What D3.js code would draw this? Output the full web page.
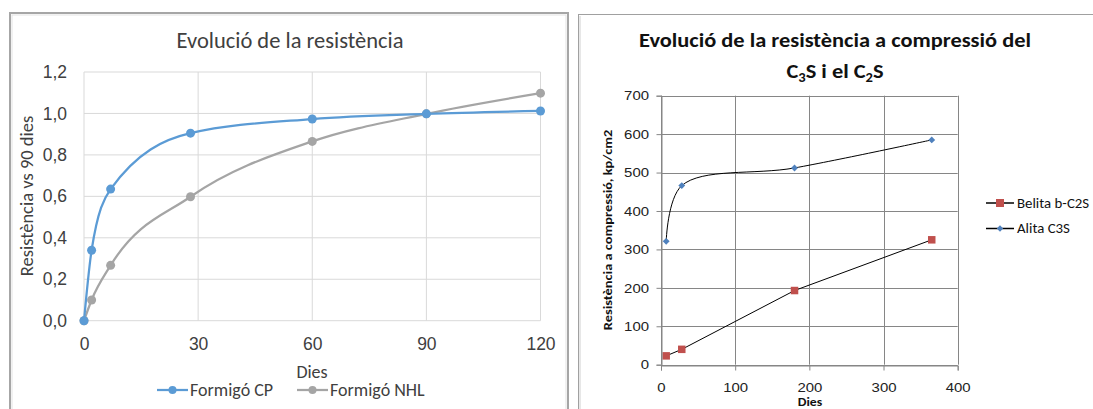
<!DOCTYPE html>
<html>
<head>
<meta charset="utf-8">
<script src="https://cdn.jsdelivr.net/npm/d3@7"></script>
<style>
  html, body { margin: 0; padding: 0; background: #fff; }
  svg { display: block; font-family: Carlito, Calibri, Lato, "Open Sans", sans-serif; }
</style>
</head>
<body>
<svg id="chart" width="1093" height="409"></svg>
<script>
// ---------- Left chart data ----------
const leftTitle = "Evolució de la resistència";
const leftDays = [0, 2, 7, 28, 60, 90, 120];
const cpValues = [0, 0.34, 0.635, 0.905, 0.973, 0.998, 1.012];
const nhlValues = [0, 0.10, 0.267, 0.598, 0.865, 0.998, 1.098];
const leftXTicks = [0, 30, 60, 90, 120];
const leftYTicks = [0, 0.2, 0.4, 0.6, 0.8, 1.0, 1.2];
const leftSeriesNames = ["Formigó CP", "Formigó NHL"];
const leftColors = ["#5B9BD5", "#A5A5A5"];

// ---------- Right chart data ----------
const rightDays = [7, 28, 180, 365];
const belitaValues = [23, 40, 193, 325];
const alitaValues = [321, 466, 512, 585];
const rightXTicks = [0, 100, 200, 300, 400];
const rightYTicks = [0, 100, 200, 300, 400, 500, 600, 700];
const rightSeriesNames = ["Belita b-C2S", "Alita C3S"];
const rightColors = ["#C0504D", "#4F81BD"];

const svg = d3.select("#chart");
const SX = 1.15; // horizontal stretch of the right chart's text

// ================= LEFT CHART =================
svg.append("rect").attr("x", 10).attr("y", 13).attr("width", 558).attr("height", 420)
  .attr("fill", "#fff").attr("stroke", "#A6A6A6").attr("stroke-width", 2);
svg.append("rect").attr("x", 12).attr("y", 15).attr("width", 554).attr("height", 420)
  .attr("fill", "none").attr("stroke", "#E3E3E3").attr("stroke-width", 1);

const lx = d3.scaleLinear().domain([0, 120]).range([84, 540.5]);
const ly = d3.scaleLinear().domain([0, 1.2]).range([320.7, 72]);

const lg = svg.append("g");
lg.selectAll("line.hg").data(leftYTicks).join("line")
  .attr("x1", lx(0)).attr("x2", lx(120))
  .attr("y1", d => ly(d)).attr("y2", d => ly(d))
  .attr("stroke", "#D9D9D9").attr("stroke-width", 1);
lg.selectAll("line.vg").data(leftXTicks).join("line")
  .attr("x1", d => lx(d)).attr("x2", d => lx(d))
  .attr("y1", ly(0)).attr("y2", ly(1.2))
  .attr("stroke", "#D9D9D9").attr("stroke-width", 1);

const lyAxis = d3.axisLeft(ly).tickValues(leftYTicks).tickSize(0).tickPadding(17)
  .tickFormat(d => d3.format(".1f")(d).replace(".", ","));
const lyG = svg.append("g").attr("transform", `translate(${lx(0)},0)`).call(lyAxis);
lyG.select(".domain").remove();
lyG.selectAll("text").attr("font-size", 17.5).attr("fill", "#404040");

const lxAxis = d3.axisBottom(lx).tickValues(leftXTicks).tickSize(0).tickPadding(17);
const lxG = svg.append("g").attr("transform", `translate(0,${ly(0)})`).call(lxAxis);
lxG.select(".domain").remove();
lxG.selectAll("text").attr("font-size", 17.5).attr("fill", "#404040");

svg.append("text").attr("x", 290).attr("y", 48).attr("text-anchor", "middle")
  .attr("font-size", 22.5).attr("fill", "#404040").text(leftTitle);
svg.append("text").attr("x", 312).attr("y", 378).attr("text-anchor", "middle")
  .attr("font-size", 18).attr("fill", "#404040").text("Dies");
svg.append("text").attr("transform", "translate(33,196) rotate(-90)").attr("text-anchor", "middle")
  .attr("font-size", 18.5).attr("fill", "#404040").text("Resistència vs 90 dies");

const leftData = [cpValues, nhlValues];
const lline = d3.line().x((d, i) => lx(leftDays[i])).y(d => ly(d)).curve(d3.curveMonotoneX);
[1, 0].forEach(s => {
  lg.append("path").datum(leftData[s]).attr("d", lline)
    .attr("fill", "none").attr("stroke", leftColors[s]).attr("stroke-width", 2.25);
  lg.selectAll(null).data(leftData[s]).join("circle")
    .attr("cx", (d, i) => lx(leftDays[i])).attr("cy", d => ly(d)).attr("r", 4.5)
    .attr("fill", leftColors[s]);
});

const legL = [{x: 157, name: leftSeriesNames[0], c: leftColors[0]}, {x: 297, name: leftSeriesNames[1], c: leftColors[1]}];
legL.forEach(e => {
  svg.append("line").attr("x1", e.x).attr("x2", e.x + 31).attr("y1", 390).attr("y2", 390)
    .attr("stroke", e.c).attr("stroke-width", 2.25);
  svg.append("circle").attr("cx", e.x + 15.5).attr("cy", 390).attr("r", 4).attr("fill", e.c);
  svg.append("text").attr("x", e.x + 33).attr("y", 396).attr("font-size", 18)
    .attr("fill", "#404040").text(e.name);
});

// ================= RIGHT CHART =================
svg.append("rect").attr("x", 578.5).attr("y", 14.5).attr("width", 530).attr("height", 420)
  .attr("fill", "#fff").attr("stroke", "#A0A0A0").attr("stroke-width", 1);
svg.append("line").attr("x1", 580).attr("x2", 580).attr("y1", 16).attr("y2", 409)
  .attr("stroke", "#D0D0D0").attr("stroke-width", 1);

const rx = d3.scaleLinear().domain([0, 400]).range([661, 957.7]);
const ry = d3.scaleLinear().domain([0, 700]).range([364.7, 95.7]);

const rg = svg.append("g");
rg.selectAll("line.hg").data(rightYTicks).join("line")
  .attr("x1", rx(0)).attr("x2", rx(400))
  .attr("y1", d => Math.round(ry(d)) + 0.5).attr("y2", d => Math.round(ry(d)) + 0.5)
  .attr("stroke", "#868686").attr("stroke-width", 1);
rg.selectAll("line.vg").data(rightXTicks).join("line")
  .attr("x1", d => Math.round(rx(d)) + 0.5).attr("x2", d => Math.round(rx(d)) + 0.5)
  .attr("y1", ry(0)).attr("y2", ry(700))
  .attr("stroke", "#868686").attr("stroke-width", 1);

const ryAxis = d3.axisLeft(ry).tickValues(rightYTicks).tickSize(5).tickPadding(4);
const ryG = svg.append("g").attr("transform", `translate(${Math.round(rx(0)) + 0.5},0)`).call(ryAxis);
ryG.selectAll("path, line").attr("stroke", "#868686");
ryG.selectAll("text").attr("font-size", 13).attr("fill", "#222")
  .attr("x", 0).attr("transform", `translate(-12.5,0) scale(${SX},1)`);

const rxAxis = d3.axisBottom(rx).tickValues(rightXTicks).tickSize(5).tickPadding(12);
const rxG = svg.append("g").attr("transform", `translate(0,${Math.round(ry(0)) + 0.5})`).call(rxAxis);
rxG.selectAll("path, line").attr("stroke", "#868686");
rxG.selectAll("text").attr("font-size", 13).attr("fill", "#222")
  .attr("transform", `scale(${SX},1)`);

// titles
const t1 = svg.append("text").attr("transform", "translate(835,47) scale(1.12,1)").attr("text-anchor", "middle")
  .attr("font-size", 20).attr("font-weight", "bold").attr("fill", "#111")
  .text("Evolució de la resistència a compressió del");
const t2 = svg.append("text").attr("transform", "translate(835,78) scale(1.12,1)").attr("text-anchor", "middle")
  .attr("font-size", 20).attr("font-weight", "bold").attr("fill", "#111");
t2.append("tspan").text("C");
t2.append("tspan").attr("font-size", 13).attr("dy", 4).text("3");
t2.append("tspan").attr("dy", -4).text("S i el C");
t2.append("tspan").attr("font-size", 13).attr("dy", 4).text("2");
t2.append("tspan").attr("dy", -4).text("S");

svg.append("text").attr("transform", `translate(810,405.5) scale(${SX},1)`).attr("text-anchor", "middle")
  .attr("font-size", 12).attr("font-weight", "bold").attr("fill", "#111").text("Dies");
svg.append("text").attr("transform", "translate(612,230) rotate(-90) scale(1.2,1)").attr("text-anchor", "middle")
  .attr("font-size", 12).attr("font-weight", "bold").attr("fill", "#111")
  .text("Resistència a compressió, kp/cm2");

// series
const belLine = d3.line().x((d, i) => rx(rightDays[i])).y(d => ry(d));
const aliLine = d3.line().x((d, i) => rx(rightDays[i])).y(d => ry(d)).curve(d3.curveCatmullRom.alpha(0.5));
rg.append("path").datum(belitaValues).attr("d", belLine)
  .attr("fill", "none").attr("stroke", "#000").attr("stroke-width", 1);
rg.append("path").datum(alitaValues).attr("d", aliLine)
  .attr("fill", "none").attr("stroke", "#000").attr("stroke-width", 1);

const sq = 7.5;
rg.selectAll("rect.bel").data(belitaValues).join("rect")
  .attr("x", (d, i) => rx(rightDays[i]) - sq / 2).attr("y", d => ry(d) - sq / 2)
  .attr("width", sq).attr("height", sq).attr("fill", rightColors[0]);
const diamond = d3.symbol().type(d3.symbolDiamond2).size(30);
rg.selectAll("path.ali").data(alitaValues).join("path")
  .attr("d", diamond)
  .attr("transform", (d, i) => `translate(${rx(rightDays[i])},${ry(d)})`)
  .attr("fill", rightColors[1]);

// legend
const legR = [{y: 203, name: rightSeriesNames[0], c: rightColors[0], m: "sq"}, {y: 228.5, name: rightSeriesNames[1], c: rightColors[1], m: "di"}];
legR.forEach(e => {
  svg.append("line").attr("x1", 986).attr("x2", 1014).attr("y1", e.y).attr("y2", e.y)
    .attr("stroke", "#000").attr("stroke-width", 1.5);
  if (e.m === "sq") {
    svg.append("rect").attr("x", 1000 - 4).attr("y", e.y - 4).attr("width", 8).attr("height", 8).attr("fill", e.c);
  } else {
    svg.append("path").attr("d", d3.symbol().type(d3.symbolDiamond2).size(26)())
      .attr("transform", `translate(1000,${e.y})`).attr("fill", e.c);
  }
  svg.append("text").attr("transform", `translate(1017,${e.y + 4.5}) scale(1.1,1)`).attr("font-size", 13.5)
    .attr("fill", "#111").text(e.name);
});
</script>
</body>
</html>
